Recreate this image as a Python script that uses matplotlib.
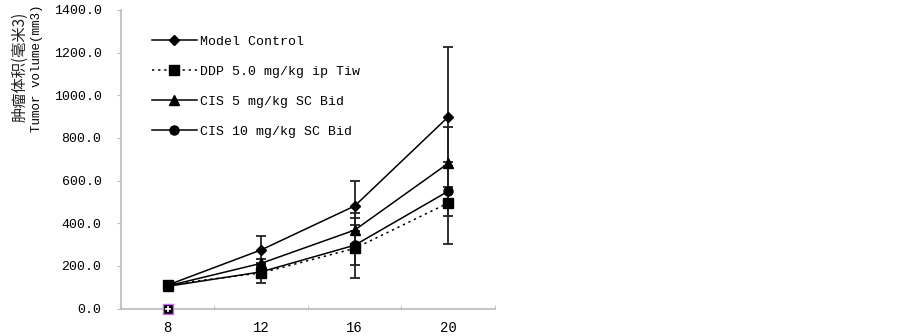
"""Tumor volume growth curves."""
import numpy as np
from matplotlib import pyplot as plt

plt.rcParams['font.family'] = ['Liberation Mono', 'Noto Sans CJK SC']

DAYS = ['8', '12', '16', '20']

SERIES = [
    'Model Control',
    'DDP 5.0 mg/kg ip Tiw',
    'CIS 5 mg/kg SC Bid',
    'CIS 10 mg/kg SC Bid',
]

model_mean = [110, 275, 481, 899]
model_err = [12, 66, 117, 328]
ddp_mean = [112, 167, 282, 495]
ddp_err = [10, 47, 141, 194]
cis5_mean = [106, 212, 368, 681]
cis5_err = [8, 20, 80, 169]
cis10_mean = [104, 172, 297, 550]
cis10_err = [8, 25, 95, 117]

# stray marker drawn under the first day
stray_x = [0]
stray_y = [0]

means = [model_mean, ddp_mean, cis5_mean, cis10_mean]
errs = [model_err, ddp_err, cis5_err, cis10_err]
markers = ['D', 's', '^', 'o']
styles = ['-', (0, (1.5, 2.5)), '-', '-']


def create_graphics():
    fig = plt.figure(figsize=(9.03, 3.36), dpi=100)
    ax = fig.add_axes([121 / 903, 27.5 / 336, 374 / 903, 298.5 / 336])

    x = np.arange(len(DAYS))
    for name, m, e, mk, ls in zip(SERIES, means, errs, markers, styles):
        ax.errorbar(x, m, yerr=e, fmt='none', ecolor='#222222',
                    elinewidth=1.3, capsize=3.5, capthick=1.3)
        ax.plot(x, m, color='black', linestyle=ls, linewidth=1.1,
                marker=mk, markersize=6.5 if mk != 'D' else 5.5,
                label=name, zorder=3)

    ax.scatter(stray_x, stray_y, marker='s', s=60, color='black',
               edgecolor='#cc66ff', linewidth=1, zorder=5, clip_on=False)
    ax.scatter(stray_x, stray_y, marker='+', s=25, color='white',
               linewidth=1.2, zorder=6, clip_on=False)

    ax.set_xlim(-0.5, len(DAYS) - 0.5)
    ax.set_ylim(0, 1400)
    ax.set_yticks(np.arange(0, 1401, 200))
    ax.set_yticklabels(['%.1f' % v for v in np.arange(0, 1401, 200)],
                       fontsize=9.5)
    ax.set_xticks(x)
    ax.set_xticklabels(DAYS, fontsize=10)
    ax.set_xticks(np.arange(-0.5, len(DAYS), 1), minor=True)
    ax.tick_params(axis='x', which='major', length=0, pad=9)
    ax.tick_params(axis='x', which='minor', direction='in', length=3,
                   color='#bbbbbb')
    ax.tick_params(axis='y', direction='out', length=3, color='#bbbbbb',
                   pad=11)

    for side in ['top', 'right']:
        ax.spines[side].set_visible(False)
    for side in ['left', 'bottom']:
        ax.spines[side].set_color('#bbbbbb')
        ax.spines[side].set_linewidth(1.2)

    # two-line y label, Chinese line set larger like the original
    fig.text(20 / 903, 1 - 67 / 336, '肿瘤体积(毫米3)', rotation=90,
             ha='center', va='center', fontsize=11,
             family=['Noto Sans CJK SC', 'DejaVu Sans'], color='#222222')
    fig.text(37 / 903, 1 - 68 / 336, 'Tumor volume(mm3)', rotation=90,
             ha='center', va='center', fontsize=9)

    ax.legend(loc='upper left', bbox_to_anchor=(0.083, 0.915),
              frameon=False, fontsize=9.5, handlelength=3.4,
              handletextpad=0.25, labelspacing=1.35, borderpad=0,
              borderaxespad=0)

    fig.savefig('out.png', dpi=100)


if __name__ == '__main__':
    create_graphics()
